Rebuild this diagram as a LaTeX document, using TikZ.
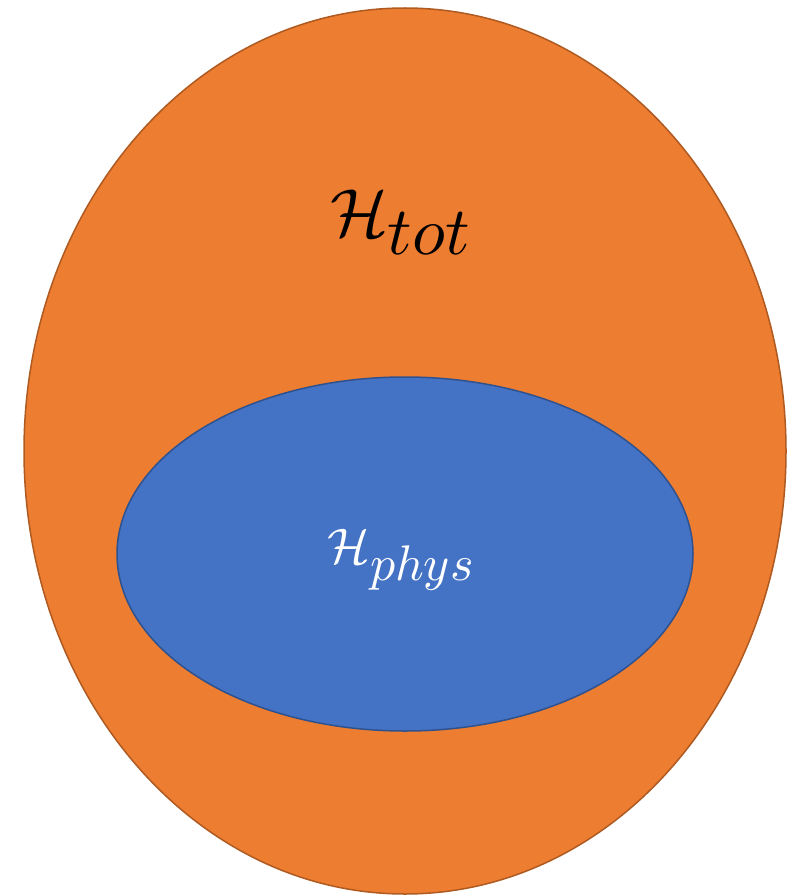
\documentclass[tikz,border=0pt]{standalone}
\usepackage{amsmath}
\definecolor{orangefill}{HTML}{ED7D31}
\definecolor{orangeline}{HTML}{AE5A21}
\definecolor{bluefill}{HTML}{4472C4}
\definecolor{blueline}{HTML}{2F528F}
\begin{document}
\begin{tikzpicture}[x=1pt,y=-1pt,
  outerset/.style={fill=orangefill,draw=orangeline,line width=1.5pt},
  innerset/.style={fill=bluefill,draw=blueline,line width=1.5pt},
  lbl/.style={inner sep=0pt}]
\useasboundingbox (0,0) rectangle (802,896);
\draw[outerset] (405,451) ellipse [x radius=381, y radius=443];
\draw[innerset] (405,554) ellipse [x radius=288, y radius=177];
\node[lbl,text=black,scale=6.8] (tot) at (402,222) {$\mathcal{H}_{\textstyle tot}$};
\node[lbl,text=white,scale=5.0] (phys) at (402,560) {$\mathcal{H}_{\textstyle phys}$};
\end{tikzpicture}
\end{document}
